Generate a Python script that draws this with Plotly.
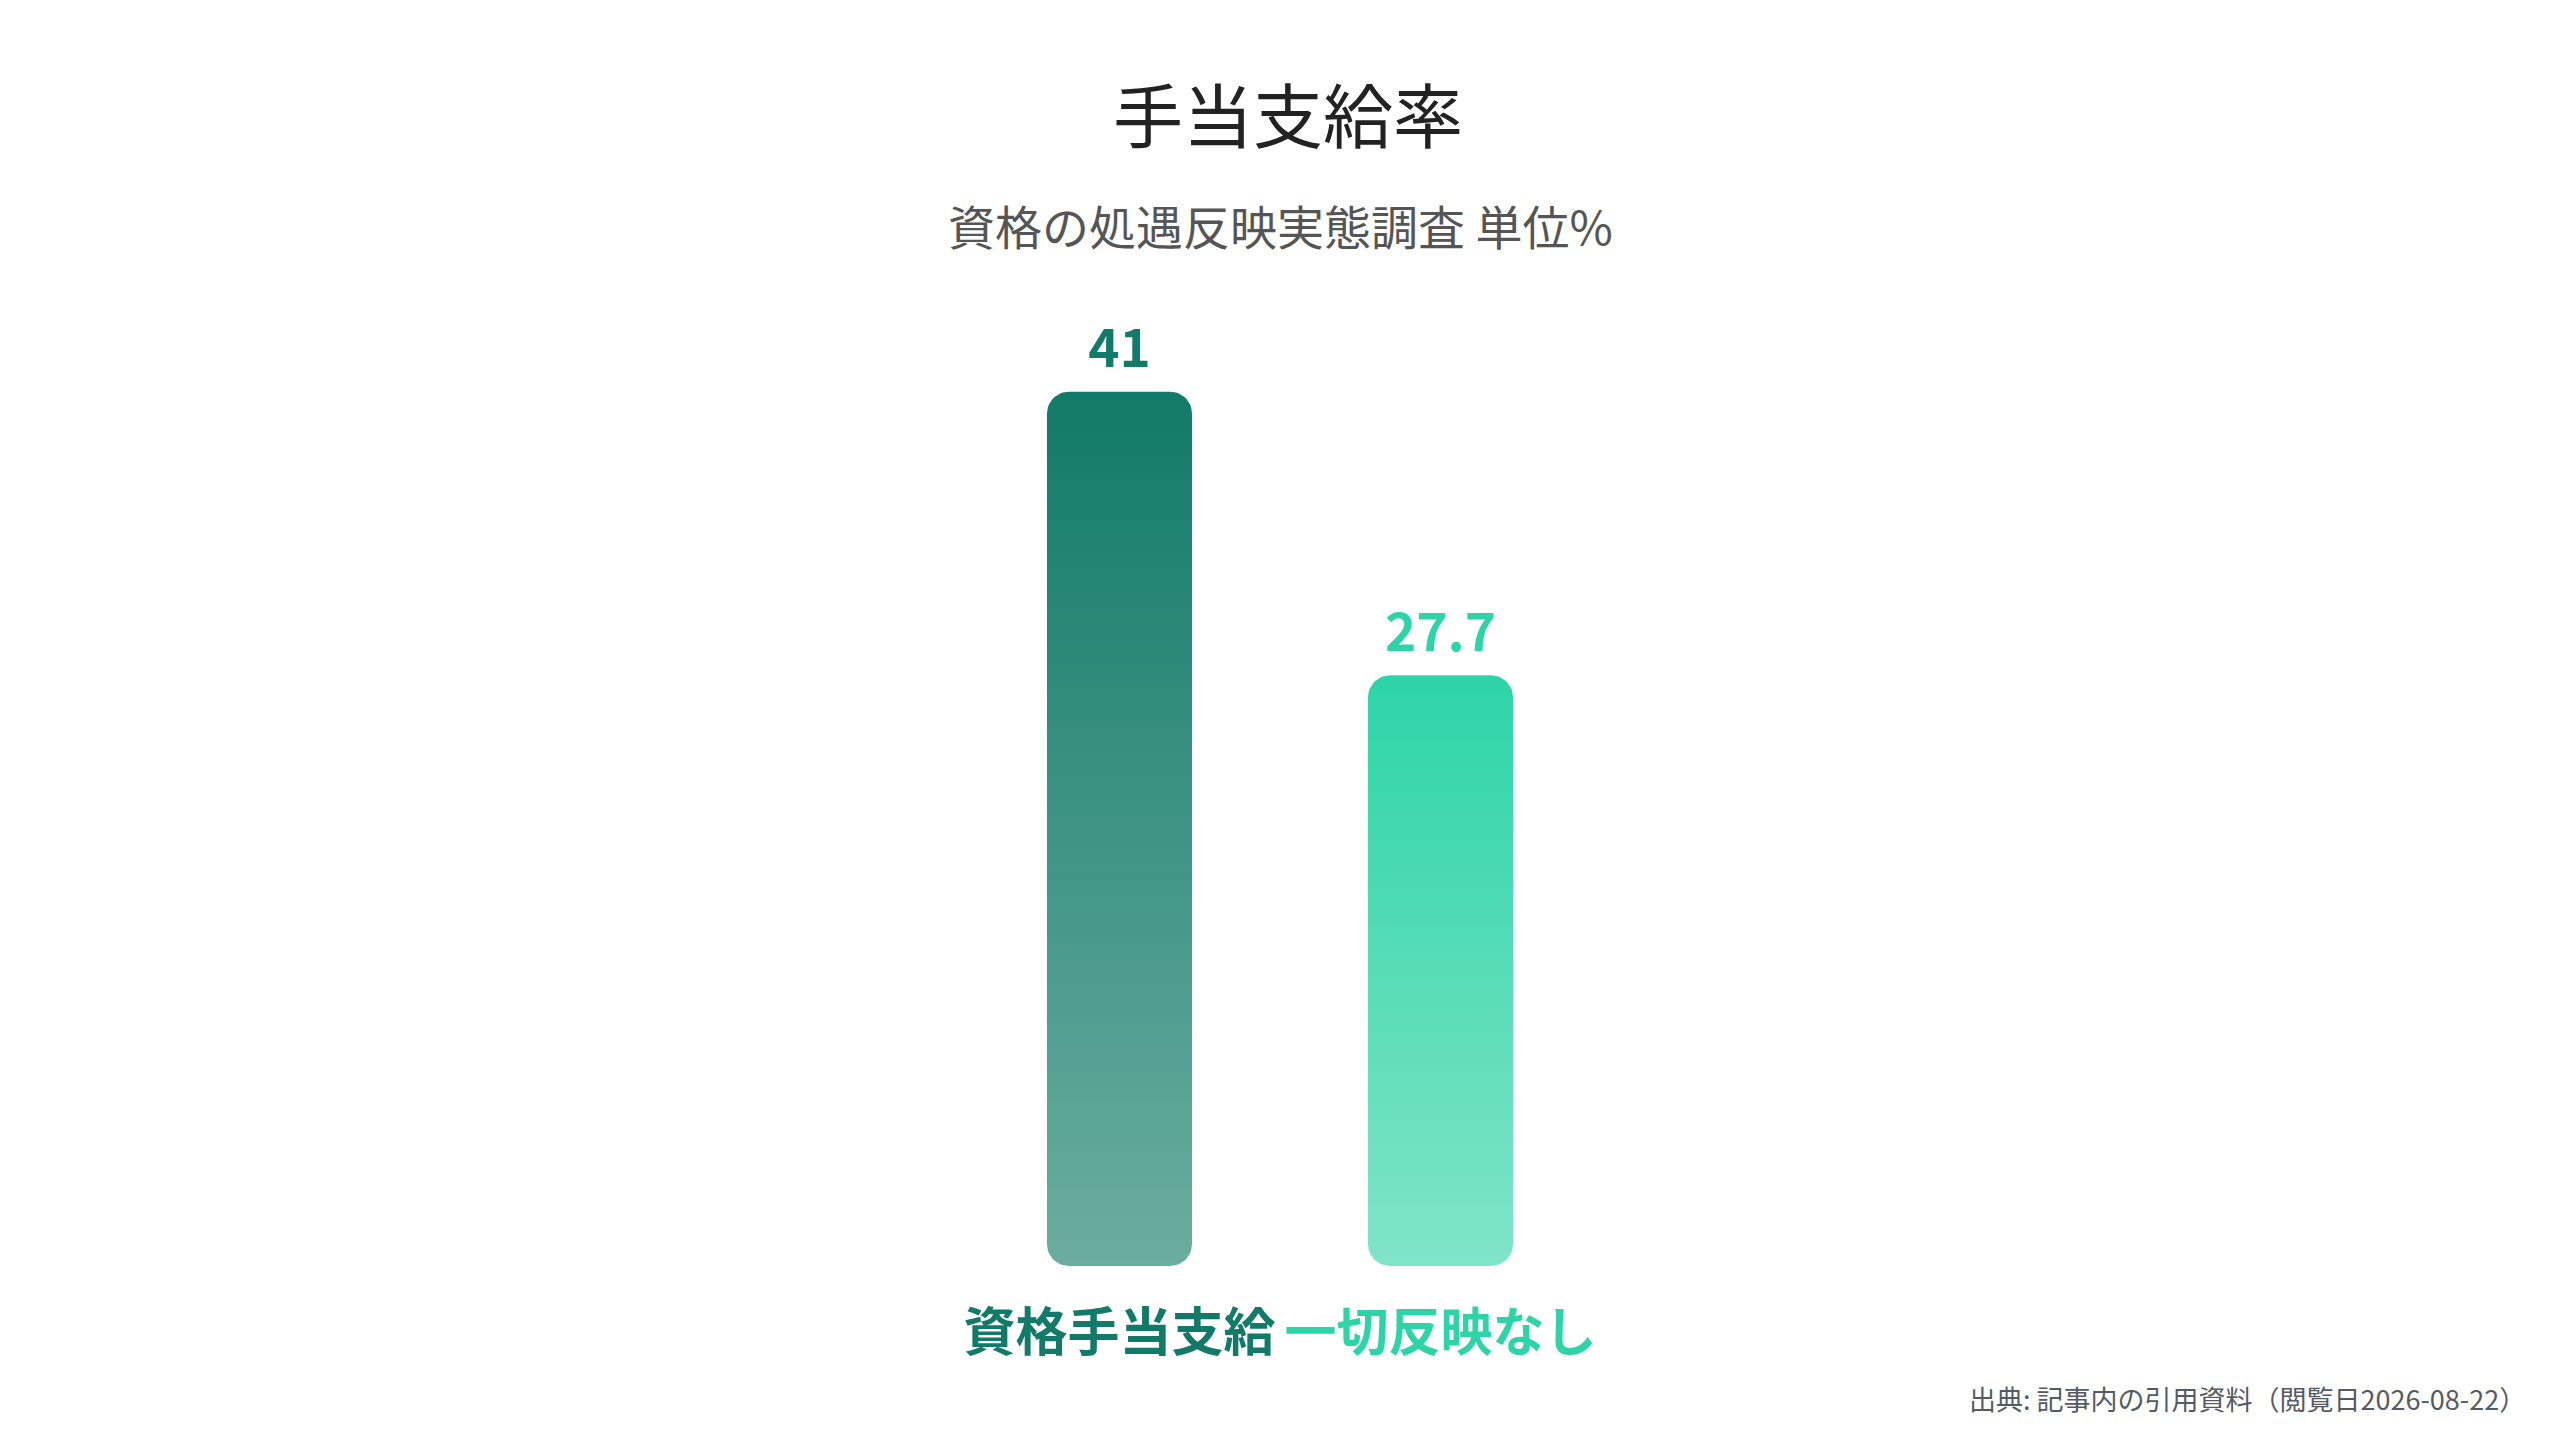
import numpy as np
import plotly.graph_objects as go

# chart data
categories = ["資格手当支給", "一切反映なし"]
values = [41, 27.7]
label_colors = ["#127a68", "#2dd4a7"]
top_colors = ["#127a68", "#2dd4a7"]
bottom_colors = ["#6badA0", "#80e4c9"]

title_text = "手当支給率"
subtitle_text = "資格の処遇反映実態調査 単位%"
source_text = "出典: 記事内の引用資料（閲覧日2026-08-22）"

FONT = "Noto Sans CJK JP"
W, H = 2560, 1440
margin = dict(l=951, r=967, t=292, b=182)
y_max = 45.3
bar_width = 0.452
corner_px = 22


def rounded_bar(xc, value):
    """Outline of a bar with all four corners rounded, in data units."""
    plot_w = W - margin["l"] - margin["r"]
    plot_h = H - margin["t"] - margin["b"]
    rx = corner_px / (plot_w / 2.0)  # x range is 2 units wide
    ry = corner_px / (plot_h / y_max)
    x0, x1 = xc - bar_width / 2, xc + bar_width / 2
    t = np.linspace(0, np.pi / 2, 12)
    xs, ys = [], []
    # bottom-left, bottom-right, top-right, top-left
    for cx, cy, a0 in [(x0 + rx, ry, np.pi), (x1 - rx, ry, 1.5 * np.pi),
                       (x1 - rx, value - ry, 0.0), (x0 + rx, value - ry, 0.5 * np.pi)]:
        xs += list(cx + rx * np.cos(a0 + t))
        ys += list(cy + ry * np.sin(a0 + t))
    xs.append(xs[0])
    ys.append(ys[0])
    return xs, ys


fig = go.Figure()

for i, (cat, val) in enumerate(zip(categories, values)):
    xs, ys = rounded_bar(i, val)
    fig.add_trace(go.Scatter(
        x=xs, y=ys, mode="lines", fill="toself",
        line=dict(width=0, color="rgba(0,0,0,0)"),
        fillgradient=dict(type="vertical", start=0, stop=val,
                          colorscale=[[0, bottom_colors[i]], [1, top_colors[i]]]),
        hoverinfo="skip", showlegend=False,
    ))

# value labels above bars (invisible marker just pushes the text up)
fig.add_trace(go.Scatter(
    x=list(range(len(values))), y=values, mode="markers+text",
    marker=dict(size=16, color="rgba(0,0,0,0)"),
    text=[f"<b>{v:g}</b>" for v in values],
    textposition="top center",
    textfont=dict(family=FONT, size=53, color=label_colors),
    cliponaxis=False, hoverinfo="skip", showlegend=False,
))

fig.update_layout(
    width=W, height=H,
    margin=margin,
    plot_bgcolor="#FFF",
    paper_bgcolor="#FFF",
    font=dict(family=FONT),
    title=dict(text=title_text, x=0.5, xanchor="center", y=1 - 110 / H, yanchor="middle",
               font=dict(family=FONT, size=70, color="#222222")),
    xaxis=dict(
        range=[-0.5, 1.5],
        tickvals=list(range(len(categories))),
        ticktext=[f"<b><span style='color:{c}'>{t}</span></b>" for t, c in zip(categories, label_colors)],
        tickfont=dict(family=FONT, size=52),
        ticks="outside", ticklen=22, tickcolor="rgba(0,0,0,0)",
        showgrid=False, zeroline=False, showline=False, fixedrange=True,
    ),
    yaxis=dict(range=[0, y_max], visible=False, showgrid=False, zeroline=False, fixedrange=True),
    annotations=[
        dict(text=subtitle_text, xref="paper", yref="paper", x=0.5, y=(1266 - 225) / 966,
             xanchor="center", yanchor="middle", showarrow=False,
             font=dict(family=FONT, size=47, color="#555555")),
        dict(text=source_text, xref="paper", yref="paper", x=(2528 - 959) / 642, y=(1266 - 1398) / 966,
             xanchor="right", yanchor="middle", showarrow=False,
             font=dict(family=FONT, size=27, color="#555a64")),
    ],
)

fig.write_html("out.html")
